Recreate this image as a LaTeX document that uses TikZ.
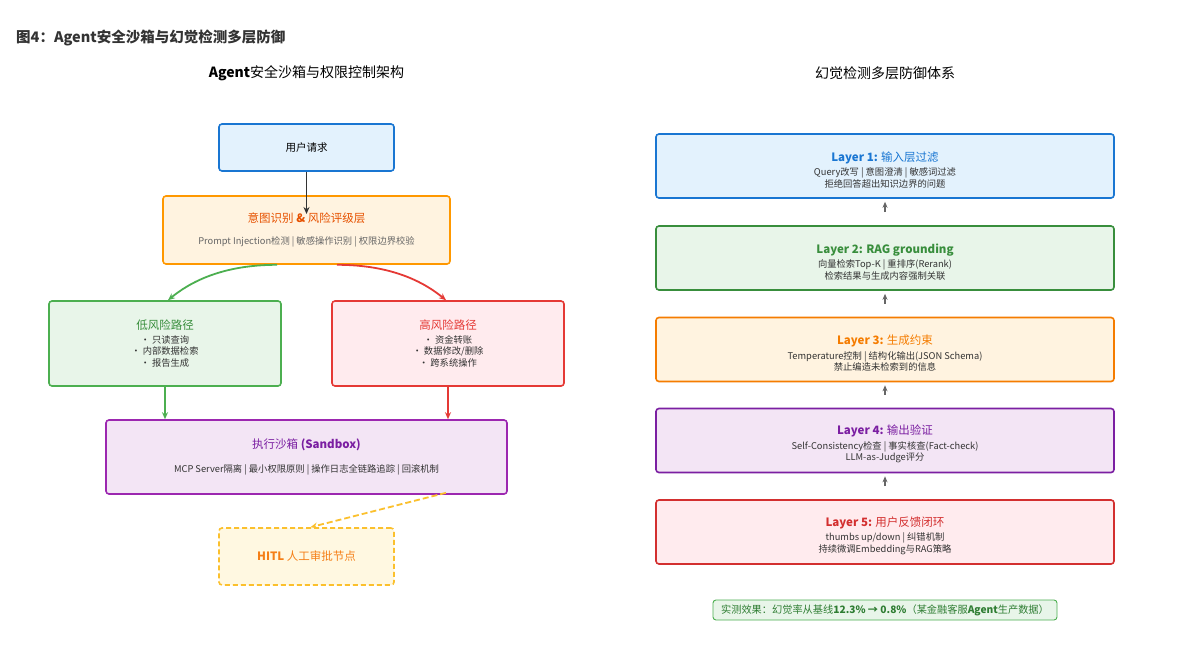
\documentclass[tikz,border=0pt]{standalone}
\usepackage{fontspec}
\setmainfont{Noto Sans CJK SC}
\usetikzlibrary{arrows.meta,calc}
\definecolor{ink}{HTML}{333333}
\definecolor{subgray}{HTML}{666666}
\definecolor{bluefill}{HTML}{E3F2FD}\definecolor{blueline}{HTML}{1976D2}
\definecolor{orangefill}{HTML}{FFF3E0}\definecolor{orangeline}{HTML}{FF9800}
\definecolor{orangetext}{HTML}{E65100}\definecolor{orangedeep}{HTML}{F57C00}
\definecolor{greenfill}{HTML}{E8F5E9}\definecolor{greenline}{HTML}{4CAF50}
\definecolor{greentext}{HTML}{388E3C}\definecolor{greendark}{HTML}{2E7D32}
\definecolor{redfill}{HTML}{FFEBEE}\definecolor{redline}{HTML}{E53935}
\definecolor{reddeep}{HTML}{D32F2F}
\definecolor{purplefill}{HTML}{F3E5F5}\definecolor{purpleline}{HTML}{9C27B0}
\definecolor{purpletext}{HTML}{7B1FA2}
\definecolor{amberfill}{HTML}{FFF8E1}\definecolor{amberline}{HTML}{FBC02D}
\definecolor{ambertext}{HTML}{F57F17}
\newcommand{\boxhead}{\fontsize{11.5}{14}\selectfont}
\newcommand{\layerhead}{\fontsize{11.5}{14}\selectfont\rule{0pt}{17pt}}
\begin{document}
\begin{tikzpicture}[x=1pt,y=-1pt,
  every node/.style={inner sep=0,align=center,font=\fontsize{9.3}{11.5}\selectfont,text=ink},
  box/.style={draw,rounded corners=3pt,line width=1.6pt},
  layer/.style={box,minimum width=458pt,minimum height=64pt},
  flow/.style={-{Stealth[length=7pt,width=6pt]},line width=1.8pt},
  up/.style={-{Stealth[length=6pt,width=5pt]},line width=1.3pt,subgray}]
\fill[white] (0,0) rectangle (1186,650);
\useasboundingbox (0,0) rectangle (1186,650);
\node[anchor=west,font=\fontsize{14.5}{17}\selectfont\bfseries] at (16,38) (fig) {图4：Agent安全沙箱与幻觉检测多层防御};
\node[font=\fontsize{14}{16}\selectfont,text=black] at (306.5,73) (lhead) {\textbf{Agent}安全沙箱与权限控制架构};
\node[font=\fontsize{14}{16}\selectfont,text=black] at (885,73) (rhead) {幻觉检测多层防御体系};
\node[box,fill=bluefill,draw=blueline,minimum width=175pt,minimum height=47pt,font=\fontsize{10.5}{13}\selectfont,text=black] at (306.5,147.5) (req) {用户请求};
\node[box,fill=orangefill,draw=orangeline,minimum width=287pt,minimum height=68pt,text=subgray] at (306.5,230) (risk) {{\boxhead\color{orangetext}意图识别 \textbf{\&} 风险评级层}\\[10pt]Prompt Injection检测 | 敏感操作识别 | 权限边界校验};
\node[box,fill=greenfill,draw=greenline,minimum width=232pt,minimum height=85pt] at (165,343.5) (low) {{\boxhead\color{greentext}低风险路径}\\[2pt]• 只读查询\\• 内部数据检索\\• 报告生成};
\node[box,fill=redfill,draw=redline,minimum width=232pt,minimum height=85pt] at (448,343.5) (high) {{\boxhead\color{redline}高风险路径}\\[2pt]• 资金转账\\• 数据修改/删除\\• 跨系统操作};
\node[box,fill=purplefill,draw=purpleline,minimum width=401pt,minimum height=74pt] at (306.5,457) (sandbox) {{\boxhead\color{purpletext}执行沙箱 \textbf{(Sandbox)}}\\[12pt]MCP Server隔离 | 最小权限原则 | 操作日志全链路追踪 | 回滚机制};
\node[box,dashed,dash pattern=on 5pt off 3pt,fill=amberfill,draw=amberline,minimum width=175pt,minimum height=57pt,font=\boxhead,text=ambertext] at (306.5,556.5) (hitl) {\textbf{HITL} 人工审批节点};
\draw[flow,ink] (req.south) -- ($(risk.center)+(0,16pt)$);
\draw[flow,greenline] ($(risk.south)+(-29.5pt,0)$) .. controls +(-55pt,0pt) and +(22pt,18pt) .. ($(low.north)+(3pt,0)$);
\draw[flow,redline] ($(risk.south)+(30.5pt,0)$) .. controls +(55pt,0pt) and +(-22pt,18pt) .. ($(high.north)+(-2pt,0)$);
\draw[flow,greenline] (low.south) -- (low.south |- sandbox.north);
\draw[flow,redline] (high.south) -- (high.south |- sandbox.north);
\draw[flow,amberline,dashed,dash pattern=on 6pt off 3pt] ($(sandbox.south)+(139.5pt,2pt)$) -- ($(hitl.north)+(4pt,0)$);
\node[layer,fill=bluefill,draw=blueline] at (885,166) (l1) {{\layerhead\color{blueline}\textbf{Layer 1:} 输入层过滤}\\[3pt]Query改写 | 意图澄清 | 敏感词过滤\\拒绝回答超出知识边界的问题};
\node[layer,fill=greenfill,draw=greentext] at (885,258) (l2) {{\layerhead\color{greentext}\textbf{Layer 2: RAG grounding}}\\[3pt]向量检索Top-K | 重排序(Rerank)\\检索结果与生成内容强制关联};
\node[layer,fill=orangefill,draw=orangedeep] at (885,349.5) (l3) {{\layerhead\color{orangedeep}\textbf{Layer 3:} 生成约束}\\[3pt]Temperature控制 | 结构化输出(JSON Schema)\\禁止编造未检索到的信息};
\node[layer,fill=purplefill,draw=purpletext] at (885,440.5) (l4) {{\layerhead\color{purpletext}\textbf{Layer 4:} 输出验证}\\[3pt]Self-Consistency检查 | 事实核查(Fact-check)\\LLM-as-Judge评分};
\node[layer,fill=redfill,draw=reddeep] at (885,532) (l5) {{\layerhead\color{reddeep}\textbf{Layer 5:} 用户反馈闭环}\\[3pt]thumbs up/down | 纠错机制\\持续微调Embedding与RAG策略};
\draw[up] ($(l2.north)+(0,13pt)$) -- ($(l1.south)+(0,-3pt)$);
\draw[up] ($(l3.north)+(0,13pt)$) -- ($(l2.south)+(0,-3pt)$);
\draw[up] ($(l4.north)+(0,13pt)$) -- ($(l3.south)+(0,-3pt)$);
\draw[up] ($(l5.north)+(0,13pt)$) -- ($(l4.south)+(0,-3pt)$);
\node[draw=greenline,fill=greenfill,rounded corners=3pt,line width=0.9pt,minimum width=344pt,minimum height=20pt,font=\fontsize{10.2}{12}\selectfont,text=greendark] at (885,610) (result) {实测效果：幻觉率从基线\textbf{12.3\% → 0.8\%}（某金融客服\textbf{Agent}生产数据）};
\end{tikzpicture}
\end{document}
